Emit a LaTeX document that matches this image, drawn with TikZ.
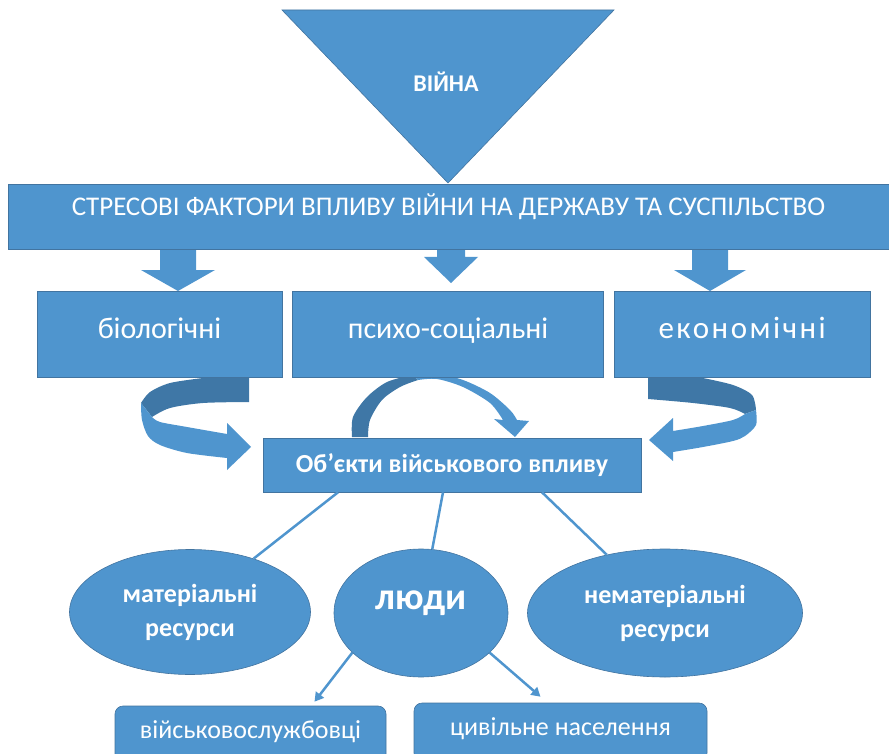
\documentclass[tikz,border=0pt]{standalone}
\usepackage{fontspec}
\setmainfont{Carlito}
\newfontfamily\spacedfont[LetterSpace=8]{Carlito}
\usetikzlibrary{positioning,shapes.geometric,arrows.meta}
\definecolor{warblue}{RGB}{79,149,206}
\definecolor{warline}{RGB}{66,116,160}
\definecolor{warshade}{RGB}{63,119,166}
\tikzset{
war_shape/.style={fill=warblue, draw=warline, line width=0.6pt, text=white, inner sep=0pt},
banner_bar/.style={war_shape, rectangle, minimum width=881pt, minimum height=65pt},
banner_font/.style={text=white, font=\fontsize{27}{30}\selectfont},
factor_box/.style={war_shape, rectangle, minimum height=86pt, text depth=12pt, font=\fontsize{30}{34}\selectfont},
object_box/.style={war_shape, rectangle, minimum width=378pt, minimum height=54pt, font=\bfseries\fontsize{26}{30}\selectfont},
res_ellipse/.style={war_shape, ellipse, align=center, font=\bfseries\fontsize{26}{34}\selectfont},
group_box/.style={war_shape, rectangle, rounded corners=8pt, minimum height=58pt, text depth=10pt, font=\fontsize{26}{30}\selectfont},
link_line/.style={draw=warblue, line width=2.5pt},
link_arrow/.style={link_line, -{Triangle[length=9pt,width=10pt]}}
}

\begin{document}
\begin{tikzpicture}[x=1pt,y=-1pt]
    \useasboundingbox (0,0) rectangle (889,754);
    % war triangle
    \filldraw[war_shape] (282,10) -- (614,10) -- (448,183) -- cycle;
    \node[text=white, font=\bfseries\fontsize{24}{28}\selectfont] (war) at (446,82) {ВІЙНА};
    % block arrows under the banner
    \foreach \cx/\sw/\hw/\neck/\tip in {178/18/37/270/291, 451/14/27/257/283, 710/18/36/270/291}
        \fill[warblue] (\cx-\sw,248) -- (\cx+\sw,248) -- (\cx+\sw,\neck) -- (\cx+\hw,\neck)
            -- (\cx,\tip) -- (\cx-\hw,\neck) -- (\cx-\sw,\neck) -- cycle;
    \node[banner_bar] (banner) at (448.5,216.5) {};
    \node[banner_font] (banner_text) at ([yshift=10pt]banner.center) {СТРЕСОВІ ФАКТОРИ ВПЛИВУ ВІЙНИ НА ДЕРЖАВУ ТА СУСПІЛЬСТВО};
    % curved arrows
    \fill[warshade] (249,378) -- (249,402) -- plot[smooth] coordinates {(249,402) (203,403) (170,408) (152,417)}
        -- (141,403) -- plot[smooth] coordinates {(141,403) (150,392) (170,383) (203,378)} -- cycle;
    \fill[warblue] (141,403) -- plot[smooth] coordinates {(141,403) (142,420) (148,436) (160,445) (187,453) (227,458)}
        -- (227,470) -- (251,447) -- (227,423) -- (227,434)
        -- plot[smooth] coordinates {(227,434) (187,427) (160,422) (152,417)} -- cycle;
    \fill[warshade] (648,378) -- (703,378) -- plot[smooth] coordinates {(703,378) (733,385) (752,395) (756,410)}
        -- (745,414) -- plot[smooth] coordinates {(745,414) (730,408) (693,403) (648,399)} -- cycle;
    \fill[warblue] (756,410) -- plot[smooth] coordinates {(756,410) (756,425) (745,436) (733,441) (703,447) (673,452)}
        -- (673,461) -- (649,440) -- (673,418) -- (673,431)
        -- plot[smooth] coordinates {(673,431) (703,426) (733,420) (745,414)} -- cycle;
    \fill[warshade] (352,437) -- plot[smooth] coordinates {(352,437) (353,417) (367,397) (387,382) (412,375)}
        -- (418,380) -- plot[smooth] coordinates {(418,380) (400,387) (382,400) (370,420) (368,437)} -- cycle;
    \fill[warblue] (412,375) -- plot[smooth] coordinates {(412,375) (437,374) (463,380) (490,393) (510,410) (517,420)}
        -- (529,421) -- (515,437) -- (494,419) -- (503,420)
        -- plot[smooth] coordinates {(503,420) (490,403) (463,387) (437,379) (418,380)} -- cycle;
    % factor boxes
    \node[factor_box, minimum width=245pt] (bio) at (159.5,334) {біологічні};
    \node[factor_box, minimum width=311pt] (psycho) [right=10pt of bio] {психо-соціальні};
    \node[factor_box, minimum width=256pt, font=\spacedfont\fontsize{31}{34}\selectfont] (econ) [right=10pt of psycho] {економічні};
    \node[object_box] (objects) at (452,465) {Об’єкти військового впливу};
    % resources
    \node[res_ellipse, minimum width=241pt, minimum height=125pt] (mat_res) at (190,612) {матеріальні\\ресурси};
    \node[res_ellipse, minimum width=174pt, minimum height=128pt, text depth=26pt, font=\bfseries\fontsize{38}{40}\selectfont] (people) at (421,613) {люди};
    \node[res_ellipse, minimum width=275pt, minimum height=128pt] (nonmat_res) at (665,613) {нематеріальні\\ресурси};
    \node[group_box, minimum width=271pt] (soldiers) at (250.5,735) {військовослужбовці};
    \node[group_box, minimum width=293pt] (civil) at (560.5,732) {цивільне населення};
    % links
    \draw[link_line] ([xshift=-114pt]objects.south) -- (mat_res.40);
    \draw[link_line] ([xshift=-9pt]objects.south) -- (people.80);
    \draw[link_line] ([xshift=90pt]objects.south) -- (nonmat_res.135);
    \draw[link_arrow] (people.210) -- ([xshift=64pt,yshift=4pt]soldiers.north);
    \draw[link_arrow] (people.-30) -- ([xshift=-20pt,yshift=6pt]civil.north);
\end{tikzpicture}
\end{document}
